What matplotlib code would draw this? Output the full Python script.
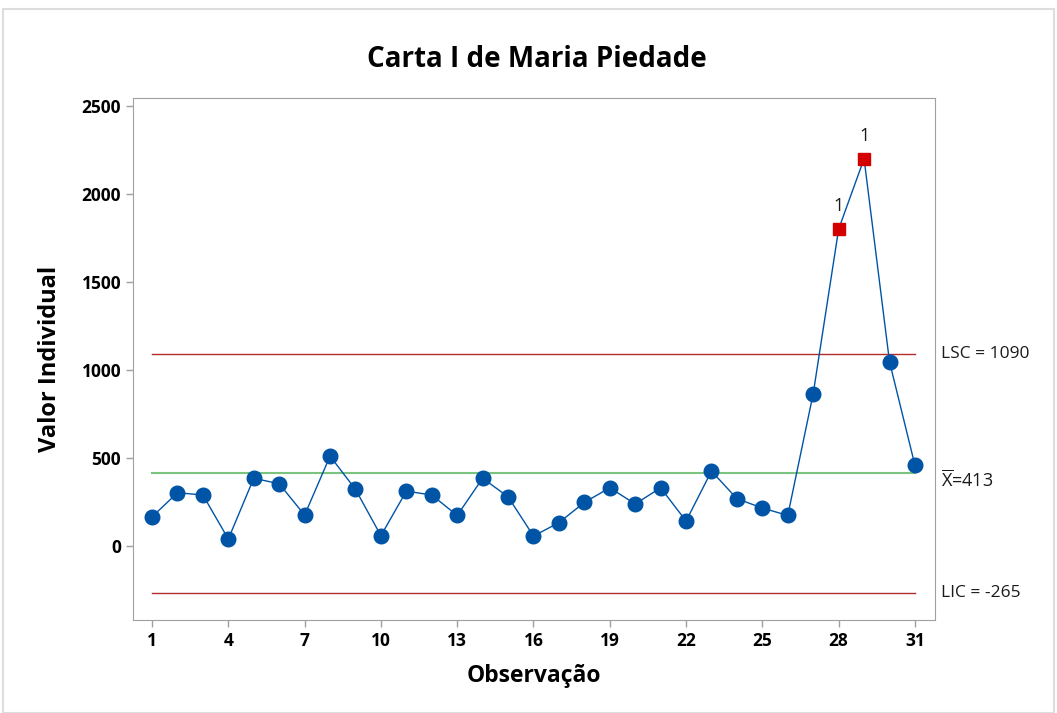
import matplotlib
matplotlib.use("Agg")
import matplotlib.pyplot as plt
from matplotlib.patches import Rectangle

# Dados da carta I
obs = list(range(1, 32))
valores = [166, 303, 290, 40, 385, 354, 176, 511, 322, 59,
           312, 290, 174, 385, 280, 57, 133, 248, 331, 239,
           331, 142, 426, 269, 216, 174, 866, 1800, 2200, 1047, 459]
fora_controle = [28, 29]  # pontos que violam o teste 1

media = 413
lsc = 1090
lic = -265

x_ticks = list(range(1, 32, 3))
y_ticks = [0, 500, 1000, 1500, 2000, 2500]

# Estilo
plt.rcParams["font.family"] = ["Open Sans", "DejaVu Sans"]
plt.rcParams["mathtext.fontset"] = "custom"
plt.rcParams["mathtext.rm"] = "Open Sans"
plt.rcParams["mathtext.it"] = "Open Sans"

AZUL = "#0054A6"
VERMELHO = "#D40000"
LINHA_LIM = "#B22C2C"
LINHA_MEDIA = "#7BC47F"
CINZA = "#A0A0A0"
TEXTO = "#1A1A1A"

fig = plt.figure(figsize=(10.57, 7.13), dpi=100)
fig.patches.append(Rectangle((0.003, 0.0), 0.994, 0.988, transform=fig.transFigure,
                             fill=False, edgecolor="#DDDDDD", linewidth=1.5))
ax = fig.add_axes([0.1258, 0.1304, 0.7588, 0.7322])

# Limites de controle
ax.plot([obs[0], obs[-1]], [lsc, lsc], color=LINHA_LIM, linewidth=1.0, zorder=1)
ax.plot([obs[0], obs[-1]], [lic, lic], color=LINHA_LIM, linewidth=1.0, zorder=1)
ax.plot([obs[0], obs[-1]], [media, media], color=LINHA_MEDIA, linewidth=1.5, zorder=1)

# Série
ax.plot(obs, valores, color=AZUL, linewidth=1.0, zorder=2)
normais = [(o, v) for o, v in zip(obs, valores) if o not in fora_controle]
ax.plot([o for o, _ in normais], [v for _, v in normais], linestyle="none",
        marker="o", markersize=10.5, color=AZUL, zorder=3)
fora = [(o, v) for o, v in zip(obs, valores) if o in fora_controle]
ax.plot([o for o, _ in fora], [v for _, v in fora], linestyle="none",
        marker="s", markersize=8.5, color=VERMELHO, zorder=3)
for o, v in fora:
    ax.annotate("1", (o, v), xytext=(0, 10), textcoords="offset points",
                ha="center", va="bottom", fontsize=13, color=TEXTO)

# Rótulos dos limites à direita
trans = ax.get_yaxis_transform()
ax.text(1.007, lsc, "LSC = 1090", transform=trans, ha="left", va="center",
        fontsize=12.5, color=TEXTO)
ax.text(1.007, media + 20, r"$\overline{\mathrm{X}}$=413", transform=trans, ha="left",
        va="top", fontsize=13, color=TEXTO)
ax.text(1.007, lic, "LIC = -265", transform=trans, ha="left", va="center",
        fontsize=12.5, color=TEXTO)

ax.set_xlim(0.25, 31.79)
ax.set_ylim(-420, 2545)
ax.set_xticks(x_ticks)
ax.set_yticks(y_ticks)
for lbl in ax.get_xticklabels() + ax.get_yticklabels():
    lbl.set_fontweight("bold")
    lbl.set_fontsize(12.5)

for s in ax.spines.values():
    s.set_color(CINZA)
ax.tick_params(color=CINZA, length=5, width=1, direction="out")

ax.set_xlabel("Observação", fontsize=16.5, fontweight="bold", labelpad=10)
ax.set_ylabel("Valor Individual", fontsize=17, fontweight="bold", labelpad=14)
fig.text(0.508, 0.917, "Carta I de Maria Piedade", ha="center", va="center",
         fontsize=20, fontweight="bold")

fig.savefig("out.png", dpi=100)
plt.close(fig)
